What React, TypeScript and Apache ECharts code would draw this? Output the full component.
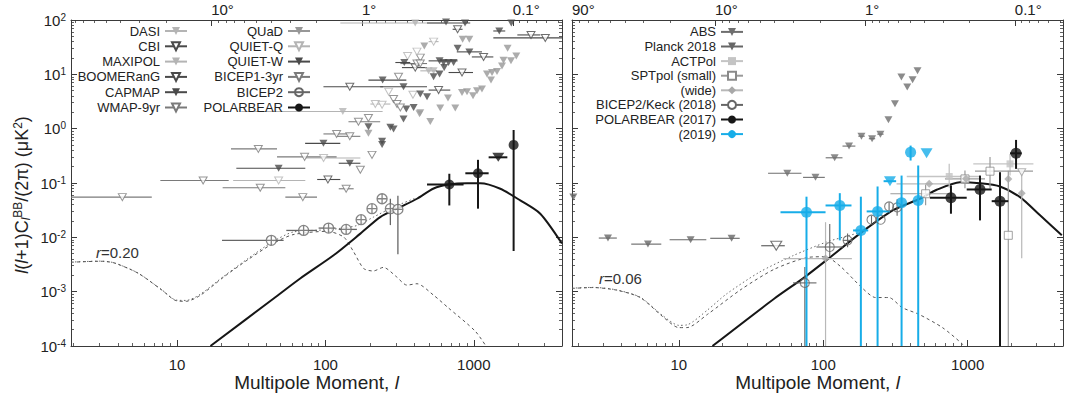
import React, { useEffect, useRef } from 'react';
import * as echarts from 'echarts';

const FONT = "'Liberation Sans', Arial, Helvetica, sans-serif";
const TEXT = '#222';
const AXIS = '#3a3a3a';
const C_LIGHT = '#b4b4b4';
const C_QUAD = '#979797';
const C_MED = '#7a7a7a';
const C_DARK = '#4a4a4a';
const C_BLACK = '#161616';
const C_BLUE = '#17ade8';

// ---- Left panel: [l, value, lLow, lHigh, vLow, vHigh]
const dasi = [[131, 2.07, 27.1, 243], [496, 11.6, 436, 565], [536, 11.6]];
const cbi = [[2430, 53.1, 1965, 2805], [3034, 46.8, 1354, 3945], [1164, 20.9, 970, 1354], [833, 10.8, 676, 988]];
const maxipol = [[403, 88, 126, 643], [436, 1.99]];
const boomerang = [[778, 67.5, 720, 840], [403, 13.3, 328, 484], [146, 5.9, 97, 245], [579, 5.13, 496, 694], [104, 0.116, 88, 126]];
const capmap = [[1790, 88], [1485, 62.8, 1353, 1629], [778, 30.3], [933, 25.9, 768, 1135], [588, 17.7, 496, 778], [626, 16.5], [676, 16.5], [731, 16.5], [536, 9.0], [336, 5.9, 234, 484], [336, 1.51]];
const wmap = [[436, 20.3], [414, 15.8, 320, 484], [436, 15.8], [311, 9.0], [288, 3.51], [167, 1.34, 143, 234], [195, 1.57], [35.3, 0.424, 23.1, 47.2], [15, 0.111, 7.72, 22.3], [4.28, 0.0549, 1.93, 6.76]];
const quad = [[841, 44], [933, 44], [464, 33.3], [1690, 30.3], [1585, 18.2], [1781, 17.7], [1934, 21.8], [1227, 10.1], [1327, 10.8], [1433, 11.3], [1306, 7.83], [1549, 14.3], [670, 3.66], [833, 4.63], [900, 4.77], [988, 4.03], [1051, 4.98], [1135, 5.35], [594, 2.4], [750, 2.4], [431, 1.88], [509, 1.36], [195, 0.82]];
const quietQ = [[536, 40, 496, 579], [414, 26.2], [358, 21.8], [267, 4.77], [389, 4.2], [217, 2.84, 201, 274], [241, 2.76], [97.2, 0.288, 73.2, 172], [48.4, 0.111, 23.9, 73.2]];
const quietW = [[650, 92], [873, 88, 484, 946], [340, 16.5, 296, 373], [632, 13.3], [588, 10.1], [243, 7.83, 195, 351], [436, 4.33], [484, 3.87], [351, 2.3], [393, 2.46], [195, 1.09], [274, 1.06], [288, 0.987], [97, 0.537, 73, 126], [241, 0.585], [241, 0.509], [146, 0.231, 123, 172], [48.4, 0.187, 25.1, 73.2]];
const bicep1 = [[304, 2.84], [320, 2.46], [119, 0.8, 97, 146], [146, 0.723, 119, 172], [72.4, 0.303, 47.2, 119], [206, 0.329], [172, 0.175], [36.4, 0.0816, 20.3, 53.7], [138, 0.0783, 123, 155], [70.4, 0.0549, 53.7, 87.8]];
const bicep2 = [[43.2, 0.0088, 20.1, 52.3], [71.3, 0.0134, 54.5, 87.8], [105, 0.0148, 90, 117], [138, 0.014, 123, 163], [174, 0.0211], [206, 0.0337], [241, 0.0513], [274, 0.0337, null, null, 0.0168, 0.0513], [308, 0.0327, null, null, 0.0049, 0.0585]];
const polarbear = [[684, 0.0938, 484, 853, 0.0386, 0.148], [1067, 0.151, 877, 1259, 0.0337, 0.267], [1855, 0.502, null, null, 0.0056, 0.946]];
const polarbearLimit = [[1462, 0.297, 1259, 1683]];

// ---- Right panel
const abs = [[56.4, 0.151, 41.5, 70.7], [88.4, 0.127, 72.5, 102.6], [120, 0.291, 104, 136], [151, 0.478, 136, 167], [184, 0.728, 175, 194], [218, 0.653, 207, 229], [249, 0.793, 237, 262], [283, 1.46], [314, 2.88], [348, 8.95], [382, 5.82], [416, 7.96], [450, 11.6]];
const planck = [[3.23, 0.0097, 2.79, 3.72], [6.11, 0.0075, 4.68, 7.56], [12.07, 0.009, 8.63, 15.5], [23.2, 0.0096, 16.5, 26.4], [1.86, 0.055]];
const actpol = [[746, 0.1316, 379, 1219, 0.0817, 0.225], [1968, 0.225, 1095, 2857, 0.137, 0.343]];
const sptSmall = [[512, 0.0634, 292, 787, 0.039, 0.0938], [959, 0.119, 697, 1321, 0.08, 0.17], [1430, 0.165, 1125, 2838, 0.079, 0.3], [1914, 0.0109, null, null, 0.0001, 0.168]];
const sptSmallLimit = [[2371, 0.158]];
const sptWide = [[103.8, 0.00406, 53, 158, 0.0001, 0.019], [542, 0.0967, 322, 755], [975, 0.12], [1914, 0.119], [2371, 0.065, null, null, 0.0041, 0.168]];
const bk18 = [[74.6, 0.00145, 61.8, 89.8, 0.0001, 0.00285], [111, 0.00664, 89.8, 137, 0.00435, 0.0176], [147.5, 0.0088, 137, 160, 0.0066, 0.0118], [216, 0.0211, null, null, 0.0175, 0.025], [250, 0.0211], [286, 0.037, null, null, 0.031, 0.044], [325, 0.0355, null, null, 0.025, 0.05]];
const bk18Limit = [[47.3, 0.007, 37.2, 54.2]];
const pb17 = [[767, 0.0535, 548, 986, 0.0272, 0.09], [1219, 0.076, 986, 1469, 0.0205, 0.137], [1677, 0.0463, 1469, 1914, 0.0001, 0.158], [2166, 0.352, 1968, 2371, 0.182, 0.621]];
const pb19 = [[76.6, 0.0289, 50.6, 103.8, 0.0001, 0.056], [130.3, 0.0386, 103.8, 157, 0.0088, 0.065], [182.3, 0.0134, 161, 205, 0.0001, 0.056], [238, 0.03, 200, 290, 0.0001, 0.0863], [349, 0.0433, null, null, 0.0001, 0.137], [455, 0.0478, null, null, 0.0001, 0.21], [403, 0.367, null, null, 0.259, 0.488]];
const pb19Limit = [[290, 0.108, 262, 320], [520, 0.352]];

// ---- Theory curves
const lensLeft = [[16.8, 1e-4], [44.8, 7.5e-4], [67.6, 1.75e-3], [113.6, 4.68e-3], [172, 0.0117], [234, 0.0236], [320, 0.036], [414, 0.0513], [536, 0.0793], [676, 0.0938], [900, 0.099], [1106, 0.099], [1509, 0.0783], [2056, 0.0478], [2805, 0.0272], [3926, 0.0077]];
const lensRight = [[17.1, 1e-4], [46.2, 7.57e-4], [72.5, 1.76e-3], [105.4, 3.8e-3], [179.4, 0.0117], [305, 0.0316], [467, 0.0513], [611, 0.075], [886, 0.1035], [1219, 0.099], [1677, 0.0863], [2309, 0.055], [3177, 0.0254], [4494, 0.0109]];
const r20 = [[1.93, 3.48e-3], [3.04, 3.63e-3], [3.76, 3.39e-3], [5.46, 2.19e-3], [7.94, 1.06e-3], [9.83, 6.84e-4], [11.55, 6.64e-4], [14.3, 8.5e-4], [20.8, 1.89e-3], [30.2, 3.92e-3], [43.8, 7.54e-3], [60.5, 0.0112], [103, 0.0129], [133, 0.0101], [155, 5.4e-3], [181, 2.67e-3], [210, 2.4e-3], [246, 2.8e-3], [300, 1.9e-3], [354, 1.32e-3], [414, 1.4e-3], [536, 8.6e-4], [670, 5.1e-4], [1027, 1.85e-4], [1272, 8e-5]];
const r20Total = [[1.93, 3.5e-3], [3.04, 3.65e-3], [3.76, 3.4e-3], [5.46, 2.2e-3], [7.94, 1.07e-3], [9.83, 7e-4], [11.55, 6.9e-4], [14.3, 8.9e-4], [20.8, 1.95e-3], [30.2, 4.1e-3], [43.8, 8.2e-3], [60.5, 0.0125], [103, 0.0138], [135, 0.015], [163, 0.0165], [211, 0.0236], [280, 0.035], [400, 0.052]];
const r06 = [[1.82, 1.15e-3], [2.54, 1.19e-3], [3.69, 1.07e-3], [5.4, 7.8e-4], [7.76, 3.45e-4], [10, 2.18e-4], [11.4, 2.18e-4], [15.8, 3.83e-4], [27, 1.1e-3], [46, 2.6e-3], [80, 4.3e-3], [103, 4.4e-3], [132, 2.9e-3], [185, 1.19e-3], [230, 7.8e-4], [285, 7.8e-4], [352, 5.1e-4], [460, 3.83e-4], [670, 2.18e-4], [925, 1.07e-4], [1000, 8e-5]];
const r06Total = [[1.82, 1.16e-3], [2.54, 1.2e-3], [3.69, 1.08e-3], [5.4, 7.9e-4], [7.76, 3.6e-4], [10, 2.4e-4], [11.4, 2.45e-4], [15.8, 4.6e-4], [21.3, 9e-4], [36.3, 2.3e-3], [61.8, 4.6e-3], [105.4, 8.2e-3], [145, 0.0105], [179, 0.0125], [305, 0.033]];

// axis ranges
const leftL = [1.93, 3930];
const rightL = [1.82, 4580];
const leftDeg = [0.0472, 85];
const rightDeg = [0.0477, 90];
const yRange = [1e-4, 100];

const num = (x: any) => typeof x === 'number' && isFinite(x);

function barRenderer(color: string, width: number) {
  return (params: any, api: any) => {
    const l = api.value(0), v = api.value(1);
    const l0 = api.value(2), l1 = api.value(3), v0 = api.value(4), v1 = api.value(5);
    const children: any[] = [];
    const st = { stroke: color, lineWidth: width };
    if (num(l0) && num(l1) && l0 > 0) {
      const a = api.coord([l0, v]);
      const b = api.coord([l1, v]);
      children.push({ type: 'line', shape: { x1: a[0], y1: a[1], x2: b[0], y2: b[1] }, style: st });
    }
    if (num(v0) && num(v1) && v0 > 0) {
      const a = api.coord([l, v0]);
      const b = api.coord([l, v1]);
      children.push({ type: 'line', shape: { x1: a[0], y1: a[1], x2: b[0], y2: b[1] }, style: st });
    }
    return { type: 'group', children };
  };
}

let uid = 0;
function experiment(name: string | null, pts: any[], o: any) {
  const id = 'e' + uid++;
  const itemStyle = { color: o.fill, borderColor: o.stroke, borderWidth: o.bw ?? 0 };
  const out: any[] = [];
  if (name) {
    out.push({
      type: 'line', name, xAxisIndex: o.xi, yAxisIndex: o.yi, data: [],
      symbol: o.legendSymbol || o.symbol, symbolSize: o.size, symbolRotate: o.rotate || 0,
      itemStyle: o.legendFill ? { ...itemStyle, color: o.legendFill } : itemStyle,
      lineStyle: { color: o.barColor, width: o.barWidth ?? 1.1 }, silent: true,
    });
  }
  out.push({
    type: 'custom', name: '_b' + id, xAxisIndex: o.xi, yAxisIndex: o.yi,
    dimensions: [{ name: 'l', type: 'float' }, { name: 'v', type: 'float' }, { name: 'l0', type: 'float' }, { name: 'l1', type: 'float' }, { name: 'v0', type: 'float' }, { name: 'v1', type: 'float' }],
    encode: { x: 0, y: 1 },
    data: pts.map((p) => [p[0], p[1], p[2] ?? null, p[3] ?? null, p[4] ?? null, p[5] ?? null]),
    renderItem: barRenderer(o.barColor, o.barWidth ?? 1.1), z: 2, silent: true,
  });
  out.push({
    type: 'scatter', name: '_p' + id, xAxisIndex: o.xi, yAxisIndex: o.yi,
    data: pts.map((p) => [p[0], p[1]]), symbol: o.symbol, symbolSize: o.size, symbolRotate: o.rotate || 0,
    itemStyle, z: 3, silent: true,
  });
  return out;
}

const TRI = 'triangle';
const crossCircle = 'path://M10 0A10 10 0 1 1 -10 0A10 10 0 1 1 10 0ZM0 -10L0 10M-10 0L10 0';

function curve(data: any[], xi: number, yi: number, color: string, width: number, type: any, z = 1) {
  return {
    type: 'line', xAxisIndex: xi, yAxisIndex: yi, data, showSymbol: false, symbol: 'none', smooth: 0.25,
    lineStyle: { color, width, type }, z, silent: true,
  };
}

function degFmt(v: number) {
  if (v > 50) return '90°';
  if (v >= 1) return Math.round(v) + '°';
  return (Math.round(v * 10) / 10) + '°';
}

function powFmt(v: number) {
  const e = Math.round(Math.log10(v));
  return '10{s|' + e + '}';
}

const axisLine = { show: true, onZero: false, lineStyle: { color: AXIS, width: 1 } };
const axisTick = { show: true, inside: true, length: 6, lineStyle: { color: AXIS, width: 1 } };
const minorTick = { show: true, splitNumber: 9, length: 3, lineStyle: { color: AXIS, width: 0.8 } };
const labelBase = { color: TEXT, fontFamily: FONT, fontSize: 15 };

function bottomAxis(grid: number, range: number[]) {
  return {
    type: 'log', gridIndex: grid, position: 'bottom', min: range[0], max: range[1], logBase: 10,
    axisLine, axisTick, minorTick, splitLine: { show: false }, minorSplitLine: { show: false },
    axisLabel: { ...labelBase, margin: 11, formatter: (v: number) => String(Math.round(v)), showMinLabel: false, showMaxLabel: false },
    name: 'Multipole Moment, {i|l}', nameLocation: 'middle', nameGap: 27, nameMoveOverlap: false,
    nameTextStyle: { color: TEXT, fontFamily: FONT, fontSize: 19, lineHeight: 19, rich: { i: { fontStyle: 'italic', fontFamily: FONT, fontSize: 19, lineHeight: 19, color: TEXT } } },
  };
}
function topAxis(grid: number, range: number[], showMax: boolean) {
  return {
    type: 'log', gridIndex: grid, position: 'top', inverse: true, min: range[0], max: range[1], logBase: 10,
    axisLine, axisTick, minorTick, splitLine: { show: false },
    axisLabel: { ...labelBase, margin: 3, align: 'left', formatter: degFmt, showMinLabel: false, showMaxLabel: showMax },
  };
}
function yAxis(grid: number, pos: string, labels: boolean) {
  return {
    type: 'log', gridIndex: grid, position: pos, min: yRange[0], max: yRange[1], logBase: 10,
    axisLine, axisTick, minorTick, splitLine: { show: false },
    axisLabel: labels
      ? { ...labelBase, margin: 5, formatter: powFmt, showMinLabel: true, showMaxLabel: true, rich: { s: { fontSize: 10, fontFamily: FONT, color: TEXT, verticalAlign: 'top', padding: [0, 0, 6, 0] } } }
      : { show: false },
  };
}

function buildOption() {
  uid = 0;
  const L = { xi: 0, yi: 0 };
  const R = { xi: 2, yi: 2 };
  const openTri = (c: string) => ({ symbol: TRI, rotate: 180, size: [8, 7], fill: '#fff', stroke: c, bw: 1, barColor: c });
  const fillTri = (c: string) => ({ symbol: TRI, rotate: 180, size: [8, 7], fill: c, stroke: c, bw: 0, barColor: c });

  const series: any[] = [
    curve(r20Total, 0, 0, '#6a6a6a', 1, [1.5, 2.5]),
    curve(r20, 0, 0, '#555', 1, [3, 3]),
    curve(lensLeft, 0, 0, C_BLACK, 2),
    curve(r06Total, 2, 2, '#6a6a6a', 1, [1.5, 2.5]),
    curve(r06, 2, 2, '#555', 1, [3, 3]),
    curve(lensRight, 2, 2, C_BLACK, 2),
    ...experiment('DASI', dasi, { ...L, ...fillTri(C_LIGHT) }),
    ...experiment('CBI', cbi, { ...L, ...openTri(C_DARK) }),
    ...experiment('MAXIPOL', maxipol, { ...L, ...fillTri(C_LIGHT) }),
    ...experiment('BOOMERanG', boomerang, { ...L, ...openTri(C_DARK) }),
    ...experiment('CAPMAP', capmap, { ...L, ...fillTri(C_DARK) }),
    ...experiment('WMAP-9yr', wmap, { ...L, ...openTri(C_MED) }),
    ...experiment('QUaD', quad, { ...L, ...fillTri(C_QUAD) }),
    ...experiment('QUIET-Q', quietQ, { ...L, ...openTri(C_LIGHT) }),
    ...experiment('QUIET-W', quietW, { ...L, ...fillTri(C_DARK) }),
    ...experiment('BICEP1-3yr', bicep1, { ...L, ...openTri(C_MED) }),
    ...experiment('BICEP2', bicep2, { ...L, symbol: crossCircle, legendSymbol: 'circle', legendFill: 'rgba(255,255,255,0)', size: 10, fill: '#fff', stroke: '#666', bw: 1.3, barColor: '#666', barWidth: 1.3 }),
    ...experiment('POLARBEAR', polarbear, { ...L, symbol: 'circle', size: 10, fill: C_BLACK, stroke: C_BLACK, bw: 0, barColor: C_BLACK, barWidth: 2 }),
    ...experiment(null, polarbearLimit, { ...L, symbol: TRI, rotate: 180, size: [12, 9], fill: C_BLACK, stroke: C_BLACK, bw: 0, barColor: C_BLACK, barWidth: 2 }),

    ...experiment('ABS', abs, { ...R, ...fillTri('#6e6e6e') }),
    ...experiment('Planck 2018', planck, { ...R, ...fillTri('#666') }),
    ...experiment('ACTPol', actpol, { ...R, symbol: 'rect', size: 7, fill: '#c4c4c4', stroke: '#c4c4c4', bw: 0, barColor: '#c4c4c4', barWidth: 1.3 }),
    ...experiment('SPTpol (small)', sptSmall, { ...R, symbol: 'rect', size: 8, fill: '#fff', stroke: '#8a8a8a', bw: 1, barColor: '#9a9a9a', barWidth: 1.2 }),
    ...experiment(null, sptSmallLimit, { ...R, ...openTri('#a0a0a0') }),
    ...experiment('(wide)', sptWide, { ...R, symbol: 'diamond', size: 8, fill: '#a8a8a8', stroke: '#a8a8a8', bw: 0, barColor: '#b8b8b8', barWidth: 1.2 }),
    ...experiment('BICEP2/Keck (2018)', bk18, { ...R, symbol: 'circle', legendFill: '#fff', size: 9, fill: 'rgba(255,255,255,0)', stroke: '#666', bw: 1.1, barColor: '#666', barWidth: 1.1 }),
    ...experiment(null, bk18Limit, { ...R, symbol: TRI, rotate: 180, size: [11, 9], fill: '#fff', stroke: '#555', bw: 1.1, barColor: '#555' }),
    ...experiment('POLARBEAR (2017)', pb17, { ...R, symbol: 'circle', size: 11, fill: C_BLACK, stroke: C_BLACK, bw: 0, barColor: C_BLACK, barWidth: 2 }),
    ...experiment('(2019)', pb19, { ...R, symbol: 'circle', size: 11, fill: C_BLUE, stroke: C_BLUE, bw: 0, barColor: C_BLUE, barWidth: 2 }),
    ...experiment(null, pb19Limit, { ...R, symbol: TRI, rotate: 180, size: [12, 10], fill: C_BLUE, stroke: C_BLUE, bw: 0, barColor: C_BLUE, barWidth: 2 }),
  ];

  const legendBase = {
    orient: 'vertical', align: 'right', itemWidth: 22, itemHeight: 10, padding: 0, selectedMode: false,
    textStyle: { color: TEXT, fontFamily: FONT, fontSize: 13 },
  };

  return {
    animation: false,
    backgroundColor: '#fff',
    grid: [
      { left: 71, right: 504, top: 20, bottom: 47, outerBoundsMode: 'none' },
      { left: 572, right: 3, top: 20, bottom: 47, outerBoundsMode: 'none' },
    ],
    xAxis: [bottomAxis(0, leftL), topAxis(0, leftDeg, false), bottomAxis(1, rightL), topAxis(1, rightDeg, true)],
    yAxis: [yAxis(0, 'left', true), yAxis(0, 'right', false), yAxis(1, 'left', false), yAxis(1, 'right', false)],
    legend: [
      { ...legendBase, data: ['DASI', 'CBI', 'MAXIPOL', 'BOOMERanG', 'CAPMAP', 'WMAP-9yr'], right: 878, top: 24.5, itemGap: 2.3 },
      { ...legendBase, data: ['QUaD', 'QUIET-Q', 'QUIET-W', 'BICEP1-3yr', 'BICEP2', 'POLARBEAR'], right: 755, top: 24.5, itemGap: 2.3 },
      { ...legendBase, data: ['ABS', 'Planck 2018', 'ACTPol', 'SPTpol (small)', '(wide)', 'BICEP2/Keck (2018)', 'POLARBEAR (2017)', '(2019)'], right: 322, top: 25.4, itemGap: 1.6 },
    ],
    graphic: [
      { type: 'text', x: 96, y: 252, style: { text: '{i|r}=0.20', fill: '#333', fontFamily: FONT, fontSize: 15, verticalAlign: 'middle', rich: { i: { fontStyle: 'italic', fontFamily: FONT, fontSize: 15, fill: '#333' } } } },
      { type: 'text', x: 599, y: 278, style: { text: '{i|r}=0.06', fill: '#333', fontFamily: FONT, fontSize: 15, verticalAlign: 'middle', rich: { i: { fontStyle: 'italic', fontFamily: FONT, fontSize: 15, fill: '#333' } } } },
      {
        type: 'text', x: 22, y: 195, rotation: Math.PI / 2,
        style: {
          text: '{i|l}({i|l}+1)C{sub|l}{sup|BB}/(2π) (μK{sup|2})',
          fill: TEXT, fontFamily: FONT, fontSize: 18, align: 'center', verticalAlign: 'middle',
          rich: {
            i: { fontStyle: 'italic', fontFamily: FONT, fontSize: 18, fill: TEXT },
            sub: { fontStyle: 'italic', fontFamily: FONT, fontSize: 12, fill: TEXT, verticalAlign: 'bottom', padding: [8, 0, 0, 0] },
            sup: { fontFamily: FONT, fontSize: 12, fill: TEXT, verticalAlign: 'top', padding: [0, 0, 8, 0] },
          },
        },
      },
    ],
    series,
  };
}

export default function App() {
  const ref = useRef<HTMLDivElement>(null);
  useEffect(() => {
    const chart = echarts.init(ref.current as HTMLDivElement, null, { renderer: 'svg' });
    chart.setOption(buildOption() as any);
    return () => chart.dispose();
  }, []);
  return <div ref={ref} style={{ position: 'absolute', left: 0, top: 0, width: 1066, height: 393, background: '#fff' }} />;
}
